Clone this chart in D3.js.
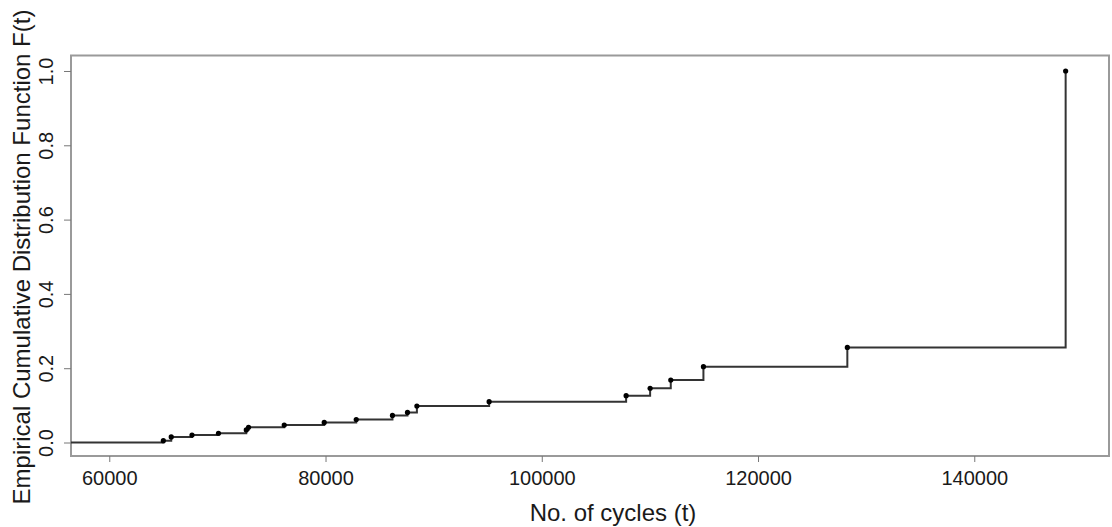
<!DOCTYPE html>
<html>
<head>
<meta charset="utf-8">
<script src="https://cdn.jsdelivr.net/npm/d3@7"></script>
<style>
  body { margin: 0; background: #fff; }
  text { font-family: "Liberation Sans", Arial, Helvetica, sans-serif; fill: #1a1a1a; }
</style>
</head>
<body>
<svg width="1112" height="527"></svg>
<script>
// failure times (cycles) and the ecdf value reached at each
var cycles = [65000, 65730, 67650, 70100, 72670, 72880, 76180, 79880, 82840, 86190,
              87580, 88450, 95130, 107800, 110020, 111930, 114950, 128260, 148450];
var ecdf = [0.005, 0.015, 0.020, 0.025, 0.034, 0.041, 0.047, 0.054, 0.062, 0.073,
            0.081, 0.098, 0.110, 0.126, 0.146, 0.168, 0.204, 0.256, 1.0];
var xTicks = [60000, 80000, 100000, 120000, 140000];
var yTicks = [0, 0.2, 0.4, 0.6, 0.8, 1.0];

var svg = d3.select("svg");

var x = d3.scaleLinear().domain([56460, 152460]).range([71, 1109]);
var y = d3.scaleLinear().domain([-0.0363, 1.0417]).range([456, 55.5]);

var pts = cycles.map(function(c, i) { return { t: c, f: ecdf[i] }; });
var stepData = [{ t: x.domain()[0], f: 0 }].concat(pts);

// box
svg.append("rect")
    .attr("x", x.range()[0])
    .attr("y", y.range()[1])
    .attr("width", x.range()[1] - x.range()[0])
    .attr("height", y.range()[0] - y.range()[1])
    .attr("fill", "none")
    .attr("stroke", "#9a9a9a")
    .attr("stroke-width", 2);

// x axis
var xAxis = svg.append("g")
    .attr("transform", "translate(0," + y.range()[0] + ")")
    .call(d3.axisBottom(x).tickValues(xTicks).tickFormat(d3.format("d")).tickSize(6).tickPadding(9));
xAxis.select(".domain").remove();
xAxis.selectAll("line").attr("stroke", "#777");
xAxis.selectAll("text").attr("font-size", 20).attr("fill", "#1a1a1a");

// y axis, labels rotated like R
var yAxis = svg.append("g")
    .attr("transform", "translate(" + x.range()[0] + ",0)")
    .call(d3.axisLeft(y).tickValues(yTicks).tickFormat(d3.format(".1f")).tickSize(7));
yAxis.select(".domain").remove();
yAxis.selectAll("line").attr("stroke", "#777");
yAxis.selectAll("text")
    .attr("font-size", 20)
    .attr("fill", "#1a1a1a")
    .attr("x", null).attr("dy", null)
    .attr("text-anchor", "middle")
    .attr("dominant-baseline", "central")
    .attr("transform", "translate(-25,0) rotate(-90)");

// step line
var line = d3.line()
    .x(function(d) { return x(d.t); })
    .y(function(d) { return y(d.f); })
    .curve(d3.curveStepAfter);

svg.append("path")
    .datum(stepData)
    .attr("d", line)
    .attr("fill", "none")
    .attr("stroke", "#333")
    .attr("stroke-width", 2);

svg.append("g")
  .selectAll("circle")
  .data(pts)
  .enter().append("circle")
    .attr("cx", function(d) { return x(d.t); })
    .attr("cy", function(d) { return y(d.f); })
    .attr("r", 2.6)
    .attr("fill", "#000");

// titles
svg.append("text")
    .attr("x", 613)
    .attr("y", 521)
    .attr("text-anchor", "middle")
    .attr("font-size", 24)
    .text("No. of cycles (t)");

svg.append("text")
    .attr("transform", "translate(30," + 257 + ") rotate(-90)")
    .attr("text-anchor", "middle")
    .attr("font-size", 24)
    .text("Empirical Cumulative Distribution Function F(t)");
</script>
</body>
</html>
